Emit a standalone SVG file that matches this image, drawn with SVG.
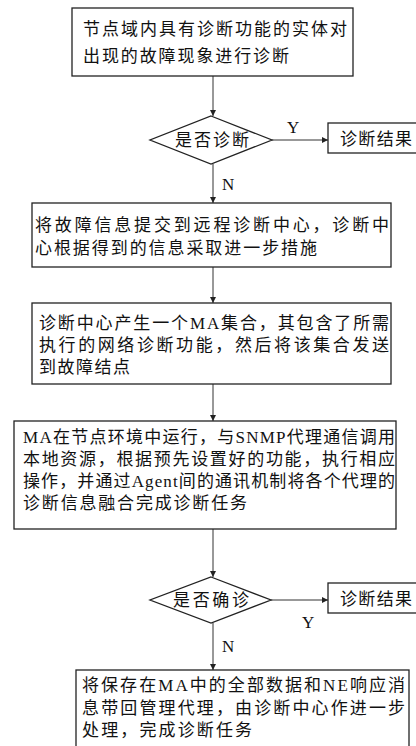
<svg xmlns="http://www.w3.org/2000/svg" width="416" height="746" viewBox="0 0 416 746">
<style>
.box{fill:#fff;stroke:#222;stroke-width:1.3}
.t{font-family:"Liberation Serif","Noto Sans CJK SC",serif;font-size:17px;fill:#111}
.l{font-family:"Liberation Serif",serif;font-size:17px;fill:#111}
.c{stroke:#333;stroke-width:1;fill:none}
</style>
<defs>
<marker id="ah" markerWidth="8" markerHeight="8" refX="6" refY="3" orient="auto" markerUnits="userSpaceOnUse">
<path d="M0,0 L6,3 L0,6 Z" fill="#222"/>
</marker>
</defs>
<rect width="416" height="746" fill="#fff"/>
<g id="connectors">
<line class="c" x1="213" y1="76" x2="213" y2="116" marker-end="url(#ah)"/>
<line class="c" x1="272" y1="140" x2="328" y2="140" marker-end="url(#ah)"/>
<line class="c" x1="213" y1="164" x2="213" y2="203" marker-end="url(#ah)"/>
<line class="c" x1="213" y1="267" x2="213" y2="303" marker-end="url(#ah)"/>
<line class="c" x1="213" y1="384" x2="213" y2="421" marker-end="url(#ah)"/>
<line class="c" x1="213" y1="529" x2="213" y2="577" marker-end="url(#ah)"/>
<line class="c" x1="271" y1="600" x2="328" y2="600" marker-end="url(#ah)"/>
<line class="c" x1="213" y1="623" x2="213" y2="670" marker-end="url(#ah)"/>
<text class="l" x="287" y="133">Y</text>
<text class="l" x="222" y="190">N</text>
<text class="l" x="302" y="628">Y</text>
<text class="l" x="222" y="652">N</text>
</g>
<g id="n1">
<rect class="box" x="72" y="8" width="281" height="68"/>
<text class="t" x="83" y="35" textLength="264" lengthAdjust="spacing">节点域内具有诊断功能的实体对</text>
<text class="t" x="83" y="62" textLength="206" lengthAdjust="spacing">出现的故障现象进行诊断</text>
</g>
<g id="d1">
<polygon class="box" points="211,116 272,140 211,164 150,140"/>
<text class="t" x="175" y="146" textLength="74" lengthAdjust="spacing">是否诊断</text>
</g>
<g id="r1">
<rect class="box" x="328" y="123" width="100" height="30"/>
<text class="t" x="340" y="145" textLength="72" lengthAdjust="spacing">诊断结果</text>
</g>
<g id="n2">
<rect class="box" x="32" y="203" width="359" height="64"/>
<text class="t" x="35" y="231" textLength="354" lengthAdjust="spacing">将故障信息提交到远程诊断中心，诊断中</text>
<text class="t" x="35" y="254" textLength="282" lengthAdjust="spacing">心根据得到的信息采取进一步措施</text>
</g>
<g id="n3">
<rect class="box" x="32" y="303" width="359" height="81"/>
<text class="t" x="39" y="329" textLength="350" lengthAdjust="spacing">诊断中心产生一个MA集合，其包含了所需</text>
<text class="t" x="39" y="351" textLength="350" lengthAdjust="spacing">执行的网络诊断功能，然后将该集合发送</text>
<text class="t" x="39" y="373" textLength="91" lengthAdjust="spacing">到故障结点</text>
</g>
<g id="n4">
<rect class="box" x="14" y="421" width="382" height="108"/>
<text class="t" x="23" y="443" textLength="372" lengthAdjust="spacing">MA在节点环境中运行，与SNMP代理通信调用</text>
<text class="t" x="23" y="465" textLength="372" lengthAdjust="spacing">本地资源，根据预先设置好的功能，执行相应</text>
<text class="t" x="23" y="487" textLength="372" lengthAdjust="spacing">操作，并通过Agent间的通讯机制将各个代理的</text>
<text class="t" x="23" y="509" textLength="224" lengthAdjust="spacing">诊断信息融合完成诊断任务</text>
</g>
<g id="d2">
<polygon class="box" points="211,577 271,600 211,623 150,600"/>
<text class="t" x="173" y="606" textLength="76" lengthAdjust="spacing">是否确诊</text>
</g>
<g id="r2">
<rect class="box" x="328" y="583" width="100" height="30"/>
<text class="t" x="340" y="605" textLength="72" lengthAdjust="spacing">诊断结果</text>
</g>
<g id="n5">
<rect class="box" x="76" y="670" width="333" height="90"/>
<text class="t" x="82" y="691" textLength="323" lengthAdjust="spacing">将保存在MA中的全部数据和NE响应消</text>
<text class="t" x="82" y="714" textLength="323" lengthAdjust="spacing">息带回管理代理，由诊断中心作进一步</text>
<text class="t" x="82" y="736" textLength="170" lengthAdjust="spacing">处理，完成诊断任务</text>
</g>
</svg>
